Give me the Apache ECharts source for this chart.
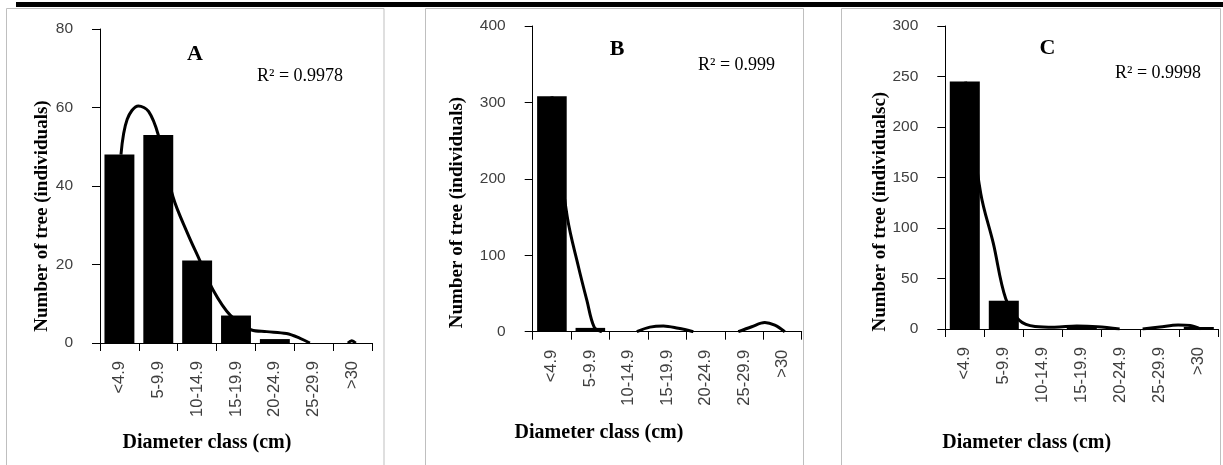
<!DOCTYPE html>
<html>
<head>
<meta charset="utf-8">
<script src="https://cdn.jsdelivr.net/npm/echarts@6/dist/echarts.min.js"></script>
<style>
html,body{margin:0;padding:0;background:#fff;}
#chart{width:1223px;height:465px;}
</style>
</head>
<body>
<div id="chart"></div>
<script>
// ---- data ----
const categories = ['<4.9', '5-9.9', '10-14.9', '15-19.9', '20-24.9', '25-29.9', '>30'];
const barsA = [48, 53, 21, 7, 1, 0, 0];
const barsB = [308, 5, 0, 0, 0, 0, 0];
const barsC = [245, 28, 0, 2, 0, 0, 2];
// trend curves: [position in class units (0..7), trees]
const trendA = [[0.54,48],[0.7,57],[0.99,60.4],[1.25,59],[1.5,53],[1.88,37.2],[2.25,28],[2.57,21],[2.91,13.5],[3.35,7.1],[3.9,3.3],[4.29,2.9],[4.8,2.4],[5.15,1.2],[5.4,0],[5.9,'-'],[6.38,0],[6.48,0.6],[6.58,0]];
const trendB = [[0.5,308],[0.9,150],[1.19,85],[1.41,41],[1.6,6],[1.8,0],[2.2,'-'],[2.71,0],[3.05,6],[3.4,7.5],[3.79,4.4],[4.18,0],[4.8,'-'],[5.35,0],[5.7,6.5],[6.04,12],[6.3,8.5],[6.56,0]];
const trendC = [[0.52,245],[0.91,134],[1.23,85],[1.55,30],[1.9,8.5],[2.3,2.5],[2.8,1.8],[3.37,3],[3.9,2.3],[4.47,0],[4.8,'-'],[5.06,0],[5.5,2],[5.97,4],[6.28,3.5],[6.55,0]];
const yMax = [80, 400, 300];
const yInterval = [20, 100, 50];
const panelLetters = ['A', 'B', 'C'];
const r2Labels = ['R\u00B2 = 0.9978', 'R\u00B2 = 0.999', 'R\u00B2 = 0.9998'];
const yNames = ['Number of tree (individuals)', 'Number of tree (individuals)', 'Number of tree (individualsc)'];
const xName = 'Diameter class (cm)';

// ---- layout ----
const grids = [
  {left: 100, top: 29, width: 272, height: 314},
  {left: 532.7, top: 26, width: 269, height: 305.7},
  {left: 945.3, top: 26, width: 273, height: 303}
];
const letterPos = [[195, 54], [617, 49], [1047.5, 48.5]];
const r2Pos = [[257, 76], [698, 65], [1115, 73.5]];
const yNamePos = [[42.5, 216], [456.7, 212.5], [880, 211.7]];
const xNamePos = [[207, 443], [599, 433], [1026.7, 443.3]];
const panelBoxes = [[6.5, 384], [425.5, 803.5], [841.5, 1220.5]];

const bars = [barsA, barsB, barsC];
const trends = [trendA, trendB, trendC];

const xAxes = [], yAxes = [], series = [];
for (let i = 0; i < 3; i++) {
  xAxes.push({
    gridIndex: i, type: 'category', data: categories,
    axisLine: {lineStyle: {color: '#000', width: 1}},
    axisTick: {show: true, length: 8, lineStyle: {color: '#000'}},
    axisLabel: {rotate: 90, interval: 0, fontSize: 16.5, color: '#404040', fontFamily: 'Liberation Sans', margin: 18},
    splitLine: {show: false}
  });
  xAxes.push({gridIndex: i, type: 'value', min: 0, max: 7, show: false});
  yAxes.push({
    gridIndex: i, type: 'value', min: 0, max: yMax[i], interval: yInterval[i],
    splitLine: {show: false},
    axisLine: {show: true, lineStyle: {color: '#000', width: 1}},
    axisTick: {show: true, length: 8, lineStyle: {color: '#000'}},
    axisLabel: {fontSize: 15.5, color: '#404040', fontFamily: 'Liberation Sans', margin: 27}
  });
  series.push({
    type: 'bar', xAxisIndex: 2 * i, yAxisIndex: i, data: bars[i],
    barWidth: '77%', itemStyle: {color: '#000'}, silent: true, animation: false
  });
  series.push({
    type: 'line', xAxisIndex: 2 * i + 1, yAxisIndex: i, data: trends[i],
    smooth: 0.35, symbol: 'none', connectNulls: false,
    lineStyle: {color: '#000', width: 3}, z: 5, silent: true, animation: false
  });
}

const graphics = [
  {type: 'rect', shape: {x: 16, y: 2, width: 1207, height: 5}, style: {fill: '#000'}, silent: true}
];
for (let i = 0; i < 3; i++) {
  const b = panelBoxes[i];
  graphics.push({type: 'rect', shape: {x: b[0], y: 8.5, width: b[1] - b[0], height: 480},
    style: {fill: 'none', stroke: '#bfbfbf', lineWidth: 1}, silent: true, z: -1});
  graphics.push({type: 'text', x: letterPos[i][0], y: letterPos[i][1],
    style: {text: panelLetters[i], font: 'bold 22px "Liberation Serif"', fill: '#000', align: 'center', verticalAlign: 'middle'}});
  graphics.push({type: 'text', x: r2Pos[i][0], y: r2Pos[i][1],
    style: {text: r2Labels[i], font: '18px "Liberation Serif"', fill: '#000', align: 'left', verticalAlign: 'middle'}});
  graphics.push({type: 'text', x: yNamePos[i][0], y: yNamePos[i][1], rotation: Math.PI / 2,
    style: {text: yNames[i], font: 'bold 19px "Liberation Serif"', fill: '#000', align: 'center', verticalAlign: 'middle'}});
  graphics.push({type: 'text', x: xNamePos[i][0], y: xNamePos[i][1],
    style: {text: xName, font: 'bold 20px "Liberation Serif"', fill: '#000', align: 'center', verticalAlign: 'middle'}});
}

const chart = echarts.init(document.getElementById('chart'), null, {renderer: 'canvas'});
chart.setOption({
  animation: false,
  backgroundColor: '#fff',
  grid: grids,
  xAxis: xAxes,
  yAxis: yAxes,
  series: series,
  graphic: graphics
});
</script>
</body>
</html>
